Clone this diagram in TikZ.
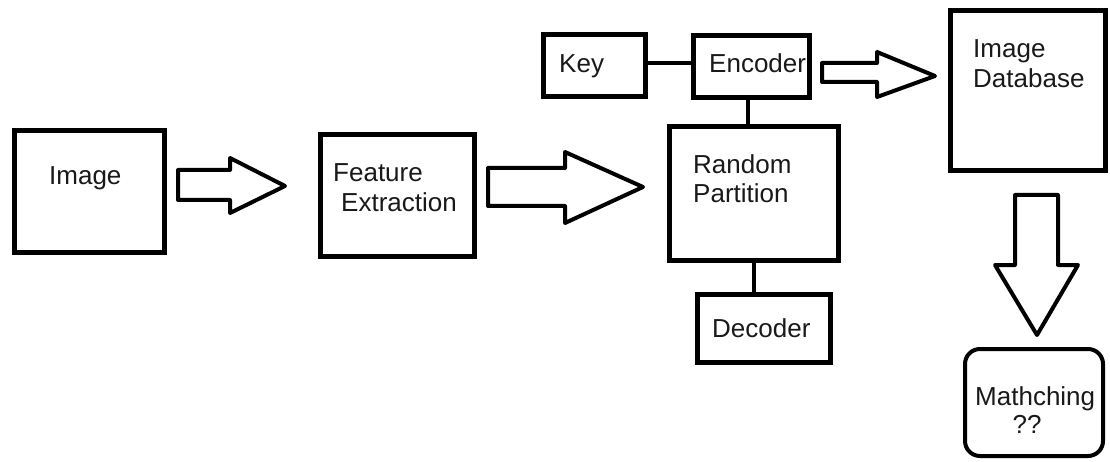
\documentclass[tikz,border=0pt]{standalone}
\usepackage{fontspec}
\setmainfont{Liberation Sans}
\begin{document}
\begin{tikzpicture}[x=1pt,y=-1pt,
  box/.style={draw=black, line width=5pt, inner sep=0pt, fill=white},
  rbox/.style={draw=black, line width=4pt, inner sep=0pt, rounded corners=15pt},
  txt/.style={anchor=base west, inner sep=0pt, font=\fontsize{26}{30}\selectfont, text=black!90},
  link/.style={draw=black, line width=4pt},
  barrow/.style={draw=black, line width=4pt, line join=round, fill=white}
]
\useasboundingbox (0,0) rectangle (1110,462);
% boxes
\node[box, minimum width=150pt, minimum height=122pt] (img) at (89.5,191.5) {};
\node[box, minimum width=154pt, minimum height=122pt] (fe) at (397.5,195.5) {};
\node[box, minimum width=102pt, minimum height=62pt] (key) at (594.5,65.5) {};
\node[box, minimum width=116pt, minimum height=62pt] (enc) at (751.5,66.5) {};
\node[box, minimum width=169pt, minimum height=134pt] (rp) at (754,193.5) {};
\node[box, minimum width=133pt, minimum height=68pt] (dec) at (764,328.5) {};
\node[box, minimum width=155pt, minimum height=160pt] (db) at (1028,90.5) {};
\node[rbox, minimum width=138pt, minimum height=107pt] (mat) at (1034,402.5) {};
% texts
\node[txt] (timg) at (49,185) {Image};
\node[txt] (tfe1) at (333,182) {Feature};
\node[txt] (tfe2) at (341,212) {Extraction};
\node[txt] (tkey) at (559,73) {Key};
\node[txt] (tenc) at (709,73) {Encoder};
\node[txt] (trp1) at (693,174) {Random};
\node[txt] (trp2) at (693,203) {Partition};
\node[txt] (tdec) at (712,337) {Decoder};
\node[txt] (tdb1) at (973,58) {Image};
\node[txt] (tdb2) at (973,88) {Database};
\node[txt] (tmat1) at (975,405) {Mathching};
\node[txt, anchor=base] (tmat2) at (1027,433) {??};
% connectors
\draw[link] (key.east |- 0,63) -- (enc.west |- 0,63);
\draw[link] (enc.south -| 748,0) -- (rp.north -| 748,0);
\draw[link] (rp.south) -- (rp.south |- dec.north);
% block arrows
\draw[barrow] (178,170) -- (230,170) -- (230,158) -- (285,186) -- (230,213) -- (230,200) -- (178,200) -- cycle;
\draw[barrow] (488,168) -- (565,168) -- (565,152) -- (643,187) -- (565,223) -- (565,206) -- (488,206) -- cycle;
\draw[barrow] (822,63) -- (877,63) -- (877,52) -- (935,76) -- (877,97) -- (877,82) -- (822,82) -- cycle;
\draw[barrow] (1015,195) -- (1058,195) -- (1058,265) -- (1078,265) -- (1037,335) -- (995,265) -- (1015,265) -- cycle;
\end{tikzpicture}
\end{document}
